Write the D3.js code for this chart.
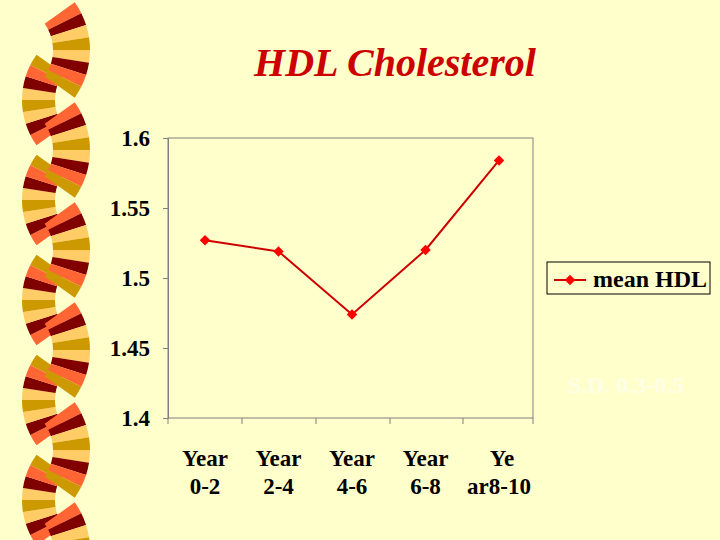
<!DOCTYPE html>
<html><head><meta charset="utf-8">
<script src="https://cdn.jsdelivr.net/npm/d3@7"></script>
<style>body{margin:0;background:#FFFFCC}</style>
</head><body>
<script>
// data
var categories = [["Year", "0-2"], ["Year", "2-4"], ["Year", "4-6"], ["Year", "6-8"], ["Ye", "ar8-10"]];
var meanHDL = [1.527, 1.519, 1.474, 1.520, 1.584];
var yTicks = [1.4, 1.45, 1.5, 1.55, 1.6];
var fanColors = ["#FF6633", "#800000", "#FFCC66", "#CC9900", "#FFCC66", "#800000", "#FF6633", "#CC9900"];

var svg = d3.select("body").append("svg").attr("width", 720).attr("height", 540)
  .style("background", "#FFFFCC").style("font-family", "Liberation Serif, Times New Roman, serif");

// left decoration
var arc = d3.arc();
function fan(cx, cy, r0, r1, mid, span) {
  var n = fanColors.length, step = 2 * span / n;
  fanColors.forEach(function(c, i) {
    svg.append("path")
      .attr("transform", "translate(" + cx + "," + cy + ")")
      .attr("d", arc({innerRadius: r0, outerRadius: r1, startAngle: mid - span + i * step, endAngle: mid - span + (i + 1) * step}))
      .attr("fill", c);
  });
}
for (var k = 0; k < 6; k++) {
  fan(100, 100 + 100 * k, 45, 78, 3 * Math.PI / 2, 0.62);
  fan(8, 50 + 100 * k, 45, 82, Math.PI / 2, 0.62);
}

svg.append("text").attr("x", 395).attr("y", 76).attr("text-anchor", "middle")
  .attr("fill", "#CC0000").attr("font-size", 40).attr("font-weight", "bold").attr("font-style", "italic")
  .text("HDL Cholesterol");

var x = d3.scalePoint().domain(d3.range(categories.length)).range([205, 499]);
var y = d3.scaleLinear().domain([1.4, 1.6]).range([418, 138]);

svg.append("rect").attr("x", 168).attr("y", 138).attr("width", 365).attr("height", 280)
  .attr("fill", "none").attr("stroke", "#808080");

var ya = svg.append("g").attr("transform", "translate(168,0)")
  .call(d3.axisLeft(y).tickValues(yTicks).tickFormat(d3.format("")).tickSize(5));
ya.select(".domain").attr("stroke", "#808080");
ya.selectAll("line").attr("stroke", "#808080");
ya.selectAll("text").attr("font-size", 23).attr("font-weight", "bold").attr("fill", "#000")
  .attr("font-family", "Liberation Serif, serif").attr("dx", -10);

var xt = svg.append("g");
[168, 242, 316, 390, 463, 533].forEach(function(v){
  xt.append("line").attr("x1", v).attr("x2", v).attr("y1", 418).attr("y2", 424).attr("stroke", "#808080");
});
categories.forEach(function(c, i) {
  var t = svg.append("text").attr("x", x(i)).attr("y", 466).attr("text-anchor", "middle")
    .attr("font-size", 23).attr("font-weight", "bold");
  t.append("tspan").attr("x", x(i) + (i === 4 ? 3 : 0)).text(c[0]);
  t.append("tspan").attr("x", x(i)).attr("dy", 28).text(c[1]);
});

svg.append("path").datum(meanHDL)
  .attr("d", d3.line().x(function(d, i){ return x(i); }).y(function(d){ return y(d); }))
  .attr("fill", "none").attr("stroke", "#CC0000").attr("stroke-width", 2);
var diamond = d3.symbol().type(d3.symbolSquare).size(55);
svg.selectAll(".pt").data(meanHDL).enter().append("path")
  .attr("transform", function(d, i){ return "translate(" + x(i) + "," + y(d) + ") rotate(45)"; })
  .attr("d", diamond).attr("fill", "#FF0000");

// legend
svg.append("rect").attr("x", 547).attr("y", 262).attr("width", 163).attr("height", 32)
  .attr("fill", "none").attr("stroke", "#000");
svg.append("line").attr("x1", 554).attr("x2", 586).attr("y1", 280).attr("y2", 280).attr("stroke", "#CC0000").attr("stroke-width", 2);
svg.append("path").attr("transform", "translate(570,280) rotate(45)").attr("d", diamond).attr("fill", "#FF0000");
svg.append("text").attr("x", 593).attr("y", 287).attr("font-size", 24).attr("font-weight", "bold").text("mean HDL");

svg.append("text").attr("x", 626).attr("y", 393).attr("text-anchor", "middle").attr("font-size", 24)
  .attr("font-weight", "bold").attr("fill", "#FFFFE8").text("S.D. 0.3-0.5");
</script>
</body></html>
